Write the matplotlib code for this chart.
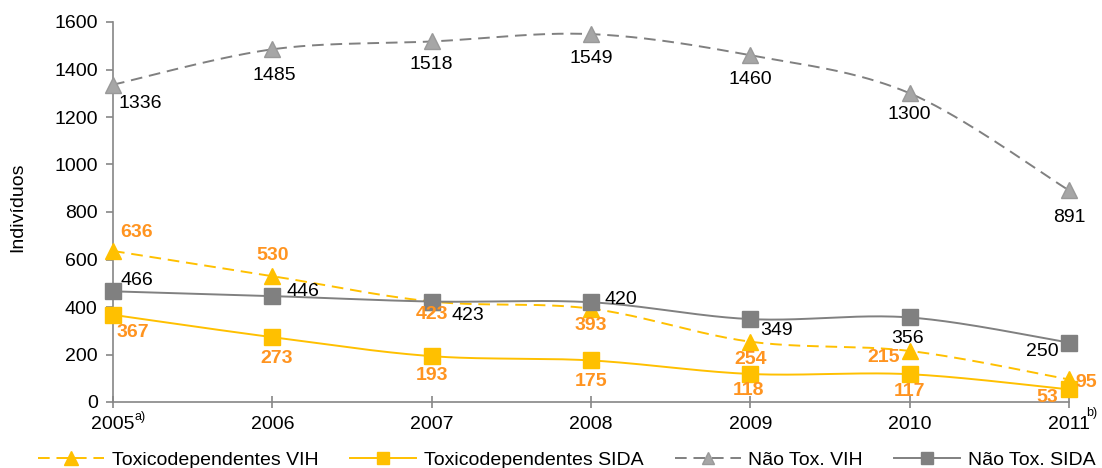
import numpy as np
import matplotlib
matplotlib.use('Agg')
import matplotlib.pyplot as plt
from matplotlib.lines import Line2D

plt.rcParams['font.family'] = ['Liberation Sans', 'DejaVu Sans']

years = [2005, 2006, 2007, 2008, 2009, 2010, 2011]
tox_vih = [636, 530, 423, 393, 254, 215, 95]
tox_sida = [367, 273, 193, 175, 118, 117, 53]
nt_vih = [1336, 1485, 1518, 1549, 1460, 1300, 891]
nt_sida = [466, 446, 423, 420, 349, 356, 250]
series_names = ['Toxicodependentes VIH', 'Toxicodependentes SIDA', 'Não Tox. VIH', 'Não Tox. SIDA']
yticks = [0, 200, 400, 600, 800, 1000, 1200, 1400, 1600]
notes = {2005: 'a)', 2011: 'b)'}

# label offsets (pixels; x right, y up)
off_tox_vih = [(24, 18), (0, 21), (0, -13), (0, -17), (0, -18), (-26, -7), (17, -3)]
off_tox_sida = [(20, -18), (4, -21), (0, -19), (0, -21), (-2, -17), (0, -17), (-22, -8)]
off_nt_vih = [(27, -19), (2, -26), (0, -23), (0, -24), (0, -24), (0, -21), (0, -27)]
off_nt_sida = [(24, 11), (31, 5), (36, -14), (30, 3), (26, -11), (-2, -21), (-27, -9)]


def smooth(x, y, n=40):
    P = np.column_stack([np.asarray(x, float), np.asarray(y, float)])
    out = []
    for i in range(len(P) - 1):
        p0 = P[max(i - 1, 0)]
        p1 = P[i]
        p2 = P[i + 1]
        p3 = P[min(i + 2, len(P) - 1)]
        c1 = p1 + (p2 - p0) / 6
        c2 = p2 - (p3 - p1) / 6
        t = np.linspace(0, 1, n)[:, None]
        seg = (1 - t) ** 3 * p1 + 3 * (1 - t) ** 2 * t * c1 + 3 * (1 - t) * t ** 2 * c2 + t ** 3 * p2
        out.append(seg if i == 0 else seg[1:])
    s = np.vstack(out)
    return s[:, 0], s[:, 1]


YELLOW = '#FFC000'
ORANGE = '#FF9420'
GRAY = '#808080'
LGRAY = '#A6A6A6'
AX = '#868686'
FS = 14

fig = plt.figure(figsize=(11.02, 4.68), dpi=100)
ax = fig.add_axes([113 / 1102, 66 / 468, (1069 - 113) / 1102, (402 - 22) / 468])

styles = [
    dict(data=tox_vih, color=YELLOW, ls=(0, (6, 3.5)), marker='^', mfc=YELLOW, mec=YELLOW, ms=12,
         lab_color=ORANGE, weight='bold', offs=off_tox_vih),
    dict(data=tox_sida, color=YELLOW, ls='-', marker='s', mfc=YELLOW, mec=YELLOW, ms=11,
         lab_color=ORANGE, weight='bold', offs=off_tox_sida),
    dict(data=nt_vih, color=GRAY, ls=(0, (6, 3.5)), marker='^', mfc=LGRAY, mec='#999999', ms=11,
         lab_color='black', weight='normal', offs=off_nt_vih),
    dict(data=nt_sida, color=GRAY, ls='-', marker='s', mfc=GRAY, mec=GRAY, ms=11,
         lab_color='black', weight='normal', offs=off_nt_sida),
]

handles = []
for name, st in zip(series_names, styles):
    sx, sy = smooth(years, st['data'])
    ax.plot(sx, sy, color=st['color'], ls=st['ls'], lw=1.4, zorder=2)
    ax.plot(years, st['data'], ls='none', marker=st['marker'], ms=st['ms'],
            mfc=st['mfc'], mec=st['mec'], zorder=5, clip_on=False)
    for x, v, (dx, dy) in zip(years, st['data'], st['offs']):
        ax.annotate(str(v), (x, v), xytext=(dx, dy), textcoords='offset pixels',
                    ha='center', va='center', fontsize=FS, color=st['lab_color'],
                    fontweight=st['weight'], zorder=6, annotation_clip=False)
    handles.append(Line2D([], [], color=st['color'], ls=st['ls'], lw=1.4, marker=st['marker'],
                          ms=st['ms'] * 0.85, mfc=st['mfc'], mec=st['mec'], label=name))

ax.set_xlim(years[0], years[-1])
ax.set_ylim(0, 1600)
ax.set_xticks(years)
ax.set_xticklabels([str(y) for y in years], fontsize=FS)
ax.set_yticks(yticks)
ax.set_yticklabels([str(t) for t in yticks], fontsize=FS)
for s in ['top', 'right']:
    ax.spines[s].set_visible(False)
for s in ['left', 'bottom']:
    ax.spines[s].set_color(AX)
    ax.spines[s].set_linewidth(1.2)
    ax.spines[s].set_zorder(1)
ax.tick_params(axis='x', direction='inout', length=8, width=1.2, color=AX, pad=6)
ax.tick_params(axis='y', direction='out', length=5, width=1.2, color=AX, pad=6)
ax.patch.set_visible(False)

for yr, note in notes.items():
    ax.annotate(note, (yr, 0), xytext=(27 if yr == years[0] else 23, -15 if yr == years[0] else -11),
                textcoords='offset pixels', ha='center', va='center', fontsize=9,
                annotation_clip=False)

fig.text(18 / 1102, 1 - 207 / 468, 'Indivíduos', rotation=90, ha='center', va='center', fontsize=FS)

fig.legend(handles=handles, loc='center', bbox_to_anchor=(567 / 1102, 1 - 460 / 468), ncol=4,
           frameon=False, fontsize=FS, handlelength=3.4, handletextpad=0.4, columnspacing=1.6,
           numpoints=1, borderpad=0, borderaxespad=0)

fig.savefig('out.png', dpi=100)
